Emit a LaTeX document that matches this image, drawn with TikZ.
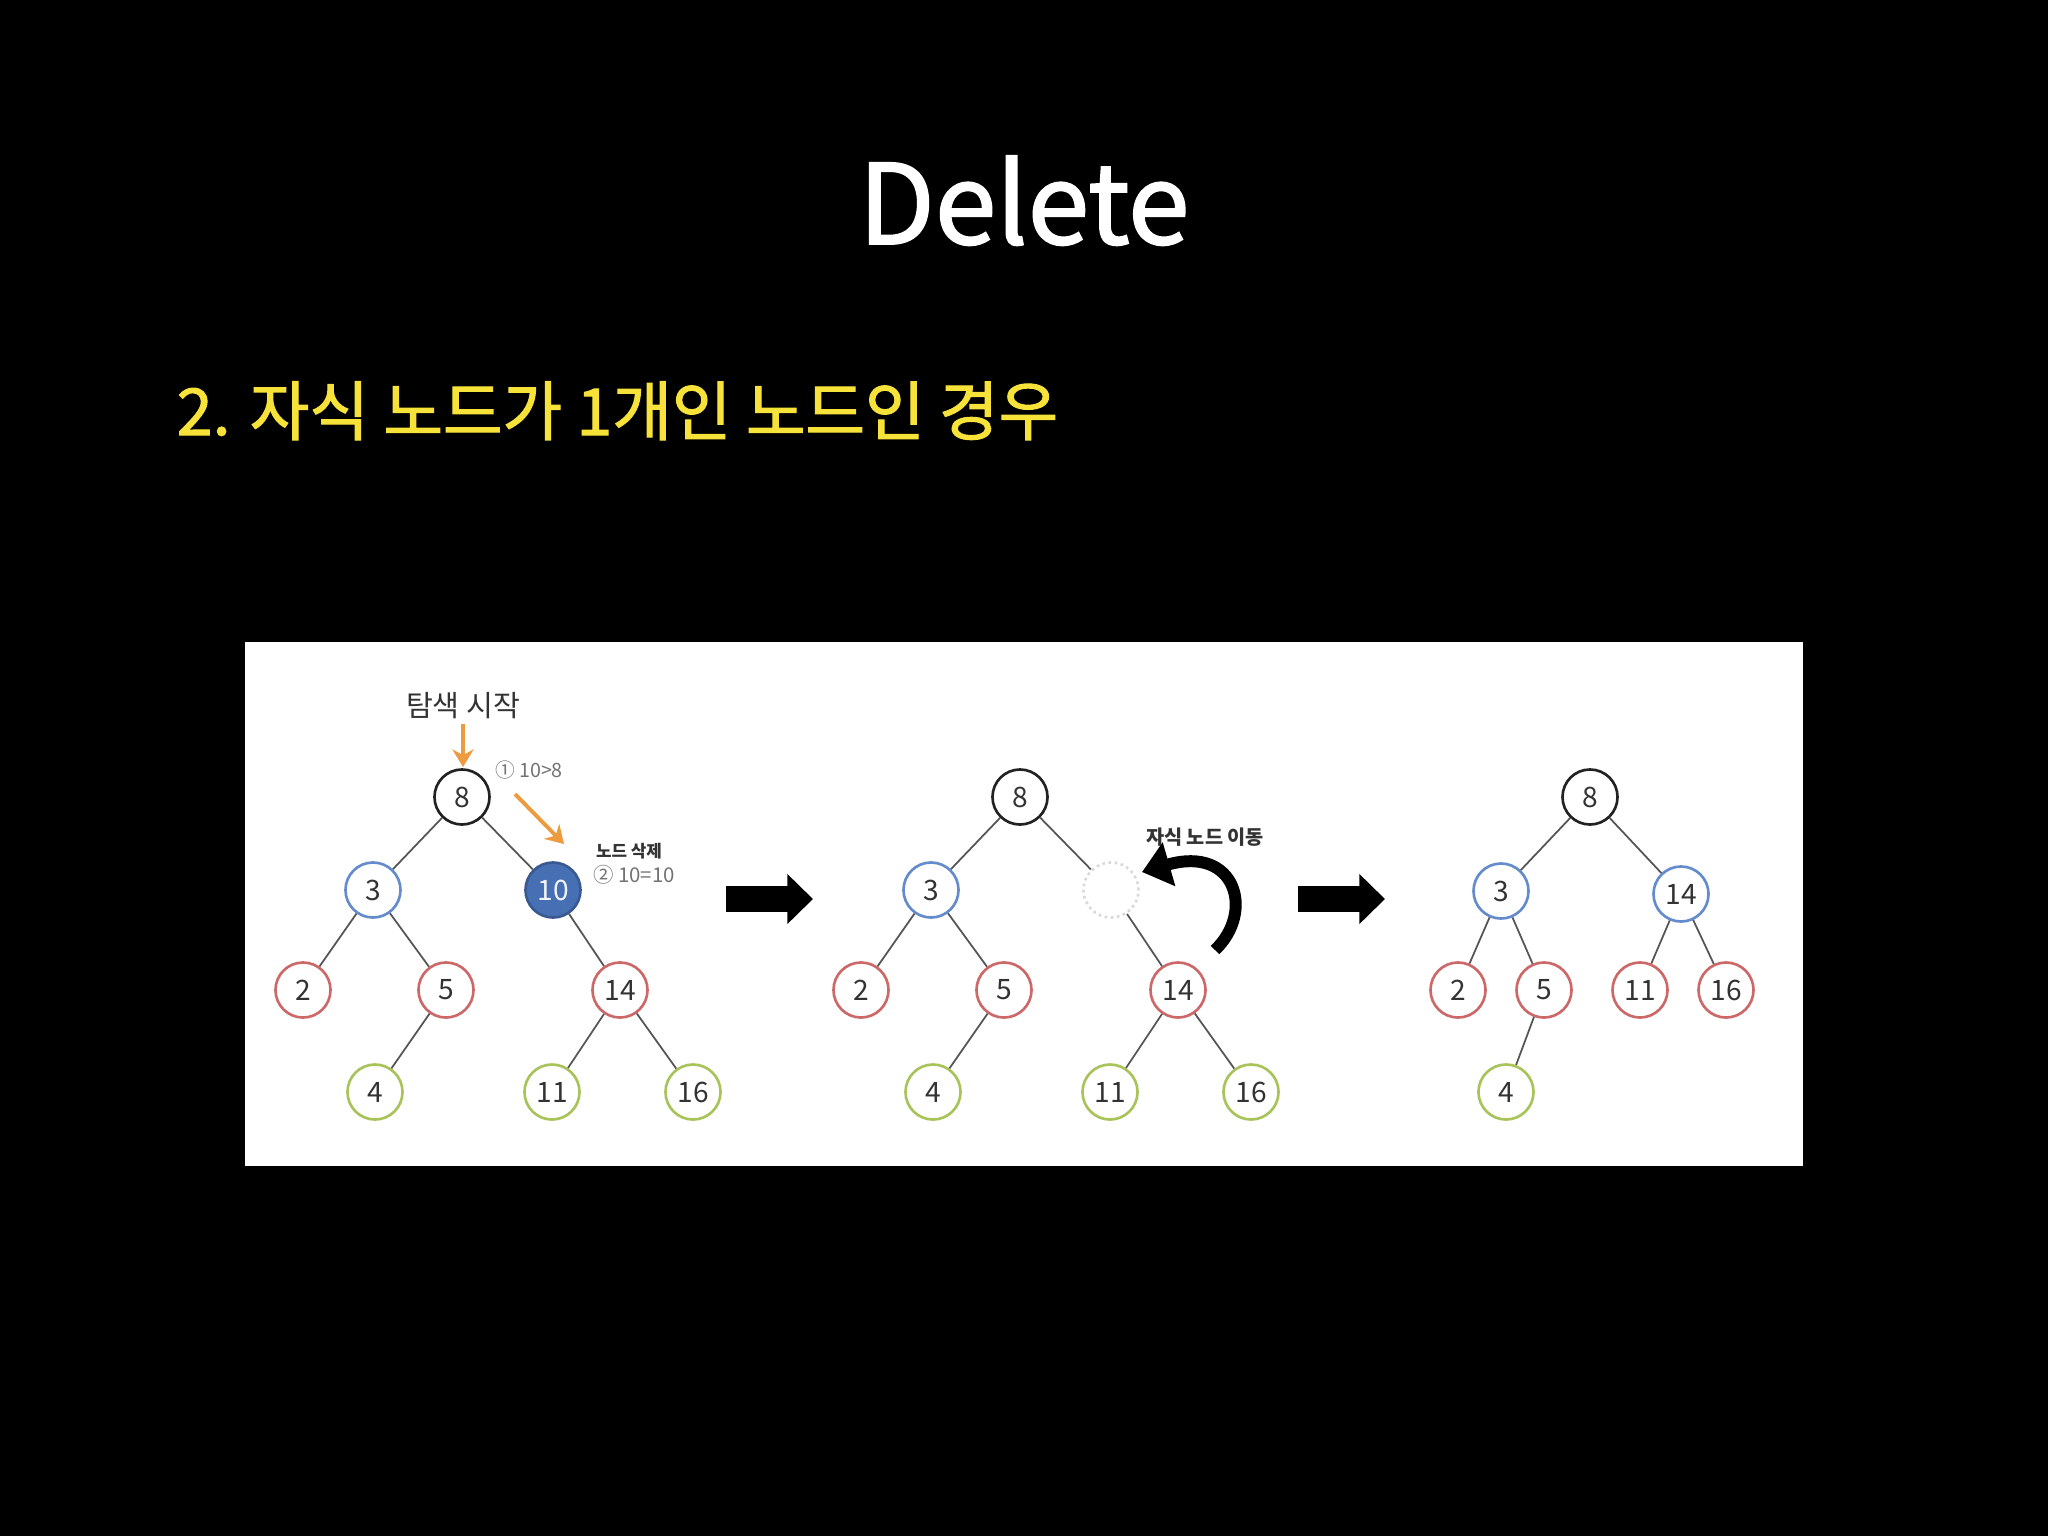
\documentclass[tikz,border=0pt]{standalone}
\usepackage{fontspec}
\setmainfont{Noto Sans CJK KR}
\newfontfamily\medfont{Noto Sans CJK KR}[FakeBold=1.6]
\usepackage{tikz}
\usetikzlibrary{arrows.meta}

\definecolor{rootc}{HTML}{222222}
\definecolor{bluec}{HTML}{648CCD}
\definecolor{redc}{HTML}{CD6868}
\definecolor{greenc}{HTML}{A8C35A}
\definecolor{fillc}{HTML}{476FB4}
\definecolor{edgec}{HTML}{555555}
\definecolor{orangec}{HTML}{EE9A3E}
\definecolor{yellowc}{HTML}{F7E23A}
\definecolor{textc}{HTML}{333333}

\tikzset{
    tnode/.style={circle,line width=0.75pt,fill=white,minimum size=0.55cm,inner sep=0pt,
        text=textc,font=\fontsize{8}{9}\selectfont},
    lv1/.style={tnode,draw=rootc},
    lv2/.style={tnode,draw=bluec},
    lv3/.style={tnode,draw=redc},
    lv4/.style={tnode,draw=greenc},
    tedge/.style={-,draw=edgec,line width=0.5pt},
    bigarrow/.style={line width=7.4pt,-{Triangle[length=7.3pt,width=13.8pt]}},
    orangearrow/.style={orangec,line width=1.1pt,-{Stealth[length=5pt,width=6pt]}}
}

\begin{document}
\begin{tikzpicture}[x=0.01cm,y=-0.01cm]
    \fill[black] (0,0) rectangle (2048,1536);
    \fill[white] (245,642) rectangle (1803,1166);

    \node[anchor=base,text=white,font=\medfont\fontsize{31.5}{38}\selectfont] (title) at (1024,244) {Delete};
    \node[anchor=base west,inner sep=0pt,text=yellowc,font=\medfont\fontsize{18.4}{22}\selectfont] (sub) at (176,435) {2. 자식 노드가 1개인 노드인 경우};

    \begin{scope}
        \node[lv1] (A8) at (462,797) {8};
        \node[lv2] (A3) at (373,890) {3};
        \node[tnode,draw=fillc!80!black,fill=fillc,text=white!92!fillc] (A10) at (553,890) {10};
        \node[lv3] (A2) at (303,990) {2};
        \node[lv3] (A5) at (446,990) {5};
        \node[lv3] (A14) at (620,990) {14};
        \node[lv4] (A4) at (375,1092) {4};
        \node[lv4] (A11) at (552,1092) {11};
        \node[lv4] (A16) at (693,1092) {16};
    \end{scope}

    \begin{scope}
        \path [tedge] (A8) edge (A3);
        \path [tedge] (A8) edge (A10);
        \path [tedge] (A3) edge (A2);
        \path [tedge] (A3) edge (A5);
        \path [tedge] (A5) edge (A4);
        \path [tedge] (A10) edge (A14);
        \path [tedge] (A14) edge (A11);
        \path [tedge] (A14) edge (A16);
    \end{scope}

    \node[text=textc,font=\fontsize{8.3}{10}\selectfont] (start) at (463,706) {탐색 시작};
    \coordinate (s0) at (463,724);
    \coordinate (s1) at (463,767);
    \coordinate (d0) at (515,794);
    \coordinate (d1) at (564,844);
    \draw[orangearrow] (s0) -- (s1);
    \draw[orangearrow] (d0) -- (d1);
    \node[text=gray!90!black,font=\fontsize{5.6}{7}\selectfont] (cmp1) at (529,770) {① 10>8};
    \node[text=textc,font=\bfseries\fontsize{4.8}{6}\selectfont] (del) at (629,851) {노드 삭제};
    \node[text=gray!90!black,font=\fontsize{5.8}{7}\selectfont] (cmp2) at (634,875) {② 10=10};

    \coordinate (r1) at (726,899);
    \coordinate (r2) at (813,899);
    \draw[bigarrow] (r1) -- (r2);

    \begin{scope}
        \node[lv1] (B8) at (1020,797) {8};
        \node[lv2] (B3) at (931,890) {3};
        \node[tnode,draw=gray!30,densely dotted] (B10) at (1111,890) {};
        \node[lv3] (B2) at (861,990) {2};
        \node[lv3] (B5) at (1004,990) {5};
        \node[lv3] (B14) at (1178,990) {14};
        \node[lv4] (B4) at (933,1092) {4};
        \node[lv4] (B11) at (1110,1092) {11};
        \node[lv4] (B16) at (1251,1092) {16};
    \end{scope}

    \begin{scope}
        \path [tedge] (B8) edge (B3);
        \path [tedge] (B8) edge (B10);
        \path [tedge] (B3) edge (B2);
        \path [tedge] (B3) edge (B5);
        \path [tedge] (B5) edge (B4);
        \path [tedge] (B10) edge (B14);
        \path [tedge] (B14) edge (B11);
        \path [tedge] (B14) edge (B16);
    \end{scope}

    \node[text=textc,font=\bfseries\fontsize{5.6}{7}\selectfont] (move) at (1205,837) {자식 노드 이동};
    \coordinate (m0) at (1215,950);
    \coordinate (m1) at (1142,872);
    \draw[line width=3.4pt,-{Triangle[length=8pt,width=12.5pt]}] (m0) .. controls (1255,912) and (1236,845) .. (m1);

    \coordinate (r3) at (1298,899);
    \coordinate (r4) at (1385,899);
    \draw[bigarrow] (r3) -- (r4);

    \begin{scope}
        \node[lv1] (C8) at (1590,797) {8};
        \node[lv2] (C3) at (1501,891) {3};
        \node[lv2] (C14) at (1681,894) {14};
        \node[lv3] (C2) at (1458,990) {2};
        \node[lv3] (C5) at (1544,990) {5};
        \node[lv3] (C11) at (1640,990) {11};
        \node[lv3] (C16) at (1726,990) {16};
        \node[lv4] (C4) at (1506,1092) {4};
    \end{scope}

    \begin{scope}
        \path [tedge] (C8) edge (C3);
        \path [tedge] (C8) edge (C14);
        \path [tedge] (C3) edge (C2);
        \path [tedge] (C3) edge (C5);
        \path [tedge] (C5) edge (C4);
        \path [tedge] (C14) edge (C11);
        \path [tedge] (C14) edge (C16);
    \end{scope}
\end{tikzpicture}
\end{document}
